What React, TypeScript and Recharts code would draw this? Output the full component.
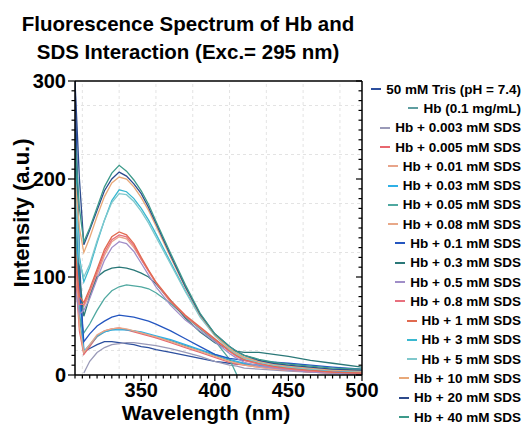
import { LineChart, Line, XAxis, YAxis, ReferenceLine } from 'recharts';

// wavelength grid (nm)
const wavelengths = [305, 308, 311, 315, 320, 325, 330, 335, 340, 345, 350, 355, 360, 370, 380, 390, 400, 410, 415, 420, 430, 440, 450, 465, 480, 500];

const tris = [300, 120, 24, 27, 31, 34, 34, 33, 32, 31, 29, 28, 26, 23, 20, 17, 14, 12, 11, 11, 10, 9, 8, 6, 5, 4];
const hbOnly = [170, 60, 22, 30, 39, 44, 46, 47, 46, 45, 43, 41, 39, 35, 30, 25, 20, 15, 13, 11, 9, 7, 6, 4, 3, 2];
const sds0003 = [null, null, 2, 14, 23, 28, 31, 32, 33, 33, 32, 31, 30, 27, 23, 19, 14, 10, 9, 7, 6, 5, 4, 3, 2, 1];
const sds0005 = [110, 45, 21, 29, 40, 45, 47, 48, 46, 44, 42, 40, 38, 33, 28, 23, 18, 13, 11, 10, 8, 6, 5, 3, 2, 1];
const sds001 = [120, 75, 70, 82, 102, 122, 136, 141, 139, 130, 118, 106, 94, 74, 59, 48, 36, 24, 19, 15, 11, 8, 6, 4, 3, 2];
const sds003 = [200, 80, 24, 31, 40, 44, 46, 46, 46, 45, 44, 42, 40, 36, 31, 26, 21, 16, 14, 12, 10, 8, 7, 5, 4, 3];
const sds005 = [150, 60, 43, 52, 66, 78, 86, 90, 92, 91, 90, 88, 84, 73, 60, 47, 35, 16, 0, null, null, null, null, null, null, null];
const sds008 = [130, 50, 23, 31, 41, 45, 47, 48, 47, 45, 43, 41, 39, 34, 29, 24, 19, 14, 12, 10, 8, 6, 5, 3, 2, 1];
const sds01 = [260, 90, 34, 42, 50, 55, 59, 61, 60, 59, 57, 55, 52, 45, 37, 29, 21, 17, 16, 15, 14, 13, 12, 10, 8, 6];
const sds03 = [250, 100, 60, 80, 100, 106, 109, 110, 109, 107, 104, 100, 93, 76, 58, 44, 33, 26, 24, 23, 23, 21, 19, 15, 12, 8];
const sds05 = [90, 62, 66, 78, 98, 117, 130, 136, 134, 126, 114, 102, 90, 71, 56, 45, 34, 22, 17, 13, 9, 7, 5, 3, 2, 1];
const sds08 = [120, 72, 72, 85, 105, 125, 138, 143, 141, 132, 118, 106, 94, 75, 60, 48, 36, 24, 19, 15, 11, 8, 6, 4, 3, 2];
const sds1 = [130, 80, 74, 88, 108, 128, 141, 146, 143, 134, 120, 107, 95, 76, 61, 49, 37, 25, 20, 16, 12, 9, 7, 5, 3, 2];
const sds3 = [220, 120, 95, 110, 135, 158, 178, 189, 187, 180, 170, 158, 144, 115, 86, 60, 41, 27, 22, 18, 14, 11, 9, 7, 5, 4];
const sds5 = [200, 115, 100, 113, 137, 158, 176, 185, 184, 177, 167, 155, 141, 113, 85, 59, 40, 26, 21, 17, 13, 10, 8, 6, 5, 4];
const sds10 = [200, 150, 125, 140, 162, 182, 196, 202, 200, 192, 181, 168, 152, 120, 89, 61, 41, 27, 22, 18, 14, 11, 9, 7, 5, 4];
const sds20 = [300, 200, 133, 148, 168, 188, 200, 207, 203, 195, 185, 171, 155, 122, 90, 62, 42, 29, 24, 20, 15, 12, 10, 8, 6, 5];
const sds40 = [240, 170, 136, 150, 171, 192, 206, 214, 208, 199, 188, 174, 157, 124, 92, 63, 42, 29, 24, 20, 16, 13, 11, 9, 7, 6];

const seriesNames = [
  '50 mM Tris (pH = 7.4)', 'Hb (0.1 mg/mL)', 'Hb + 0.003 mM SDS', 'Hb + 0.005 mM SDS',
  'Hb + 0.01 mM SDS', 'Hb + 0.03 mM SDS', 'Hb + 0.05 mM SDS', 'Hb + 0.08 mM SDS',
  'Hb + 0.1 mM SDS', 'Hb + 0.3 mM SDS', 'Hb + 0.5 mM SDS', 'Hb + 0.8 mM SDS',
  'Hb + 1 mM SDS', 'Hb + 3 mM SDS', 'Hb + 5 mM SDS', 'Hb + 10 mM SDS',
  'Hb + 20 mM SDS', 'Hb + 40 mM SDS',
];
const seriesColors = [
  '#2c4f9e', '#5f9ea0', '#9a9ab8', '#e8676f', '#e8a48a', '#2fb0e6', '#4fa8a0', '#e8a888',
  '#2456c0', '#2a7878', '#a08ec8', '#e8707e', '#e06a50', '#3ab8d0', '#80c8cc', '#e8a878',
  '#2c4a8c', '#3c9a8a',
];
const seriesValues = [
  tris, hbOnly, sds0003, sds0005, sds001, sds003, sds005, sds008, sds01,
  sds03, sds05, sds08, sds1, sds3, sds5, sds10, sds20, sds40,
];

const xLabels = [350, 400, 450, 500];
const yLabels = [0, 100, 200, 300];
const gridX = [310, 335, 360, 385, 410, 435, 460, 485];
const gridY = [25, 75, 125, 175, 225, 275];

const xTicks: number[] = [];
for (let v = 305; v <= 500; v += 5) xTicks.push(v);
const yTicks: number[] = [];
for (let v = 0; v <= 300; v += 10) yTicks.push(v);

const chartData = wavelengths.map((w, i) => {
  const row: Record<string, number | null> = { wavelength: w };
  seriesValues.forEach((vals, s) => {
    row[`s${s}`] = vals[i] ?? null;
  });
  return row;
});

const FONT = '"Liberation Sans", Arial, Helvetica, sans-serif';

function BottomTick(props: any) {
  const { x, y, payload } = props;
  const major = payload.value % 50 === 0;
  return (
    <g>
      <line x1={x} y1={y} x2={x} y2={y + (major ? 6 : 3.5)} stroke="#000" strokeWidth={1.2} />
      {xLabels.includes(payload.value) && (
        <text x={x} y={y + 22} textAnchor="middle" fontSize={20} fontWeight="bold" fill="#000" fontFamily={FONT}>
          {payload.value}
        </text>
      )}
    </g>
  );
}

function TopTick(props: any) {
  const { x, y, payload } = props;
  const major = payload.value % 50 === 0;
  return <line x1={x} y1={y} x2={x} y2={y + (major ? 6 : 3.5)} stroke="#000" strokeWidth={1.2} />;
}

function LeftTick(props: any) {
  const { x, y, payload } = props;
  const major = payload.value % 100 === 0;
  return (
    <g>
      <line x1={x} y1={y} x2={x - (major ? 7 : 3.5)} y2={y} stroke="#000" strokeWidth={1.2} />
      {yLabels.includes(payload.value) && (
        <text x={x - 9} y={y + 7} textAnchor="end" fontSize={20} fontWeight="bold" fill="#000" fontFamily={FONT}>
          {payload.value}
        </text>
      )}
    </g>
  );
}

function RightTick(props: any) {
  const { x, y, payload } = props;
  const major = payload.value % 100 === 0;
  return <line x1={x} y1={y} x2={x - (major ? 6 : 3.5)} y2={y} stroke="#000" strokeWidth={1.2} />;
}

export default function App() {
  return (
    <div style={{ position: 'absolute', left: 0, top: 0, width: 526, height: 425, background: '#fff', fontFamily: FONT, overflow: 'hidden' }}>
      <div
        style={{
          position: 'absolute', left: 0, top: 10, width: 376, textAlign: 'center',
          fontSize: 20.5, fontWeight: 'bold', lineHeight: '28px', color: '#000',
        }}
      >
        Fluorescence Spectrum of Hb and
        <br />
        SDS Interaction (Exc.= 295 nm)
      </div>

      <LineChart
        width={526}
        height={425}
        data={chartData}
        margin={{ top: 77, right: 160, bottom: 10, left: 15 }}
        style={{ position: 'absolute', left: 0, top: 0 }}
      >
        {gridX.map((v) => (
          <ReferenceLine key={`gx${v}`} x={v} stroke="#dcdcdc" strokeDasharray="3 3" strokeWidth={0.8} />
        ))}
        {gridY.map((v) => (
          <ReferenceLine key={`gy${v}`} y={v} stroke="#dcdcdc" strokeDasharray="3 3" strokeWidth={0.8} />
        ))}
        <XAxis
          dataKey="wavelength"
          type="number"
          domain={[305, 500]}
          allowDataOverflow
          ticks={xTicks}
          interval={0}
          tickSize={0}
          tickMargin={0}
          height={40}
          tick={BottomTick}
          axisLine={{ stroke: '#000', strokeWidth: 1.5 }}
        />
        <XAxis
          xAxisId="top"
          orientation="top"
          type="number"
          domain={[305, 500]}
          allowDataOverflow
          ticks={xTicks}
          interval={0}
          tickSize={0}
          tickMargin={0}
          height={4}
          tick={TopTick}
          axisLine={{ stroke: '#000', strokeWidth: 1.5 }}
        />
        <YAxis
          type="number"
          domain={[0, 300]}
          allowDataOverflow
          ticks={yTicks}
          interval={0}
          tickSize={0}
          tickMargin={0}
          width={60}
          tick={LeftTick}
          axisLine={{ stroke: '#000', strokeWidth: 1.5 }}
        />
        <YAxis
          yAxisId="right"
          orientation="right"
          type="number"
          domain={[0, 300]}
          allowDataOverflow
          ticks={yTicks}
          interval={0}
          tickSize={0}
          tickMargin={0}
          width={4}
          tick={RightTick}
          axisLine={{ stroke: '#000', strokeWidth: 1.5 }}
        />
        {seriesNames.map((name, i) => (
          <Line
            key={name}
            name={name}
            dataKey={`s${i}`}
            stroke={seriesColors[i]}
            strokeWidth={1.3}
            dot={false}
            type="linear"
            isAnimationActive={false}
          />
        ))}
      </LineChart>

      <div style={{ position: 'absolute', left: 0, top: 213 - 14, width: 0, height: 0 }}>
        <div
          style={{
            position: 'absolute', left: 22 - 150, top: 0, width: 300, textAlign: 'center',
            fontSize: 22, fontWeight: 'bold', lineHeight: '28px', transform: 'rotate(-90deg)',
            color: '#000',
          }}
        >
          Intensity (a.u.)
        </div>
      </div>
      <div
        style={{
          position: 'absolute', left: 56, top: 401, width: 300, textAlign: 'center',
          fontSize: 21, fontWeight: 'bold', lineHeight: '23px', color: '#000',
        }}
      >
        Wavelength (nm)
      </div>

      {seriesNames.map((name, i) => (
        <div
          key={name}
          style={{
            position: 'absolute', right: 5, top: 79.5 + i * 19.29, height: 19.29,
            display: 'flex', alignItems: 'center', justifyContent: 'flex-end',
            fontSize: 13.5, fontWeight: 'bold', color: '#000', whiteSpace: 'nowrap',
          }}
        >
          <span style={{ display: 'inline-block', width: 10, height: 2, background: seriesColors[i], marginRight: 5 }} />
          {name}
        </div>
      ))}
    </div>
  );
}
